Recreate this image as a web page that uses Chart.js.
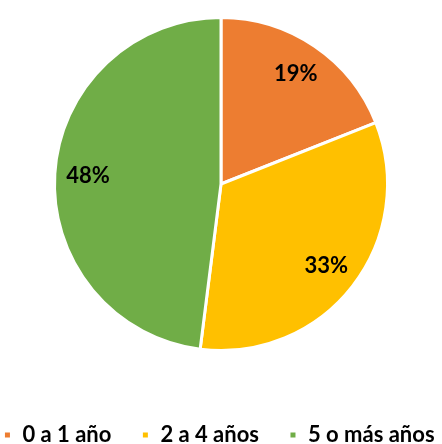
<!DOCTYPE html>
<html>
<head>
<meta charset="utf-8">
<script src="https://cdn.jsdelivr.net/npm/chart.js@4"></script>
<style>
  html, body { margin: 0; padding: 0; background: #fff; }
  #wrap { width: 442px; height: 444px; }
</style>
</head>
<body>
<div id="wrap"><canvas id="pieChart"></canvas></div>
<script>
const categories = ['0 a 1 año', '2 a 4 años', '5 o más años'];
const values = [19, 33, 48];
const colors = ['#ED7D31', '#FFC000', '#70AD47'];

const FONT = 'Lato, "Open Sans", sans-serif';

// percentage labels inside each slice
const sliceLabels = {
  id: 'sliceLabels',
  afterDatasetsDraw(chart) {
    const ctx = chart.ctx;
    const meta = chart.getDatasetMeta(0);
    const total = values.reduce((a, b) => a + b, 0);
    ctx.save();
    ctx.font = 'bold 22px ' + FONT;
    ctx.fillStyle = '#000';
    ctx.textAlign = 'center';
    ctx.textBaseline = 'middle';
    meta.data.forEach((arc, i) => {
      const mid = (arc.startAngle + arc.endAngle) / 2;
      const r = arc.outerRadius * 0.8;
      const x = arc.x + Math.cos(mid) * r;
      const y = arc.y + Math.sin(mid) * r;
      ctx.fillText(Math.round(values[i] / total * 100) + '%', x, y);
    });
    ctx.restore();
  }
};

new Chart(document.getElementById('pieChart').getContext('2d'), {
  type: 'pie',
  data: {
    labels: categories,
    datasets: [{
      data: values,
      backgroundColor: colors,
      borderColor: '#fff',
      borderWidth: 3
    }]
  },
  options: {
    responsive: true,
    maintainAspectRatio: false,
    animation: false,
    // negative side padding keeps the legend on one line
    layout: { padding: { top: 16, bottom: -12, left: -36, right: -32 } },
    plugins: {
      tooltip: { enabled: false },
      legend: {
        position: 'bottom',
        title: {
          display: true,
          text: ' ',
          font: { size: 10, lineHeight: 1 },
          padding: { top: 32, bottom: 0 }
        },
        labels: {
          boxWidth: 8,
          boxHeight: 8,
          padding: 30,
          color: '#000',
          font: { family: FONT, size: 22, weight: 'bold' }
        }
      }
    }
  },
  plugins: [sliceLabels]
});
</script>
</body>
</html>
